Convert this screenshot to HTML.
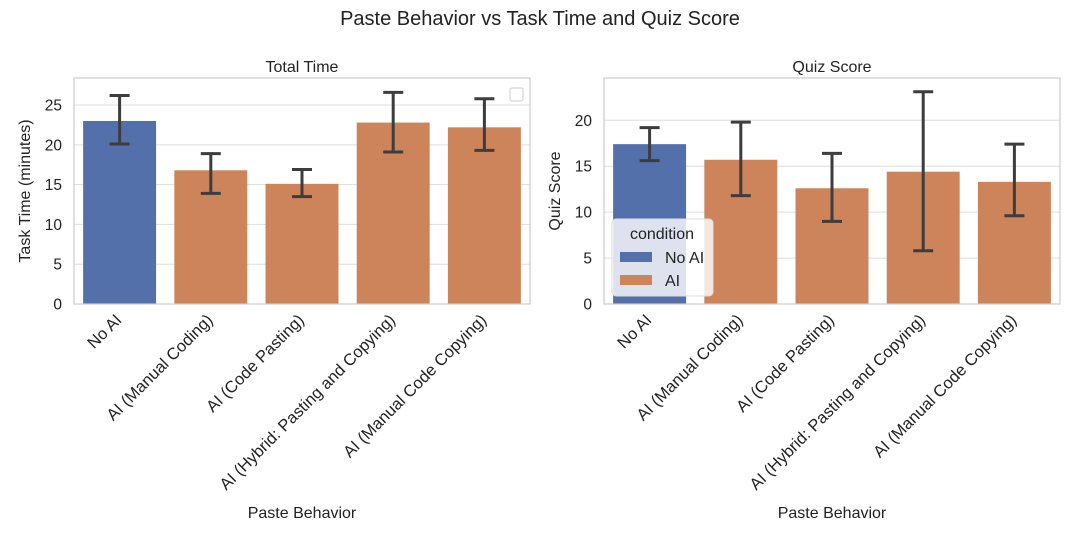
<!DOCTYPE html>
<html><head><meta charset="utf-8"><style>
body{margin:0;background:#fff;font-family:"Liberation Sans",sans-serif}
</style></head><body>
<svg id="s" width="1080" height="540" xmlns="http://www.w3.org/2000/svg" font-family="Liberation Sans, sans-serif">
<text x="540" y="25" text-anchor="middle" font-size="20" fill="#222">Paste Behavior vs Task Time and Quiz Score</text>
</svg>
<script>
const categories=["No AI","AI (Manual Coding)","AI (Code Pasting)","AI (Hybrid: Pasting and Copying)","AI (Manual Code Copying)"];
const timeValues=[23.0,16.8,15.1,22.8,22.2];
const timeLow=[20.1,13.9,13.5,19.1,19.3];
const timeHigh=[26.2,18.9,16.9,26.6,25.8];
const quizValues=[17.4,15.7,12.6,14.4,13.3];
const quizLow=[15.6,11.8,9.0,5.8,9.6];
const quizHigh=[19.2,19.8,16.4,23.1,17.4];
const timeTicks=[0,5,10,15,20,25];
const quizTicks=[0,5,10,15,20];
const BLUE='#5470aa', ORANGE='#cd845a';
const NS="http://www.w3.org/2000/svg";
const svg=document.getElementById('s');
function mk(t,a,p){const e=document.createElementNS(NS,t);for(const k in a)e.setAttribute(k,a[k]);(p||svg).appendChild(e);return e;}
function panel(x0,x1,y0,y1,ymax,vals,lo,hi,ticks,title,ylabel,key){
  const g=mk('g',{});
  
  
  const y=v=>y1-(v/ymax)*(y1-y0);
  const bw=(x1-x0)/categories.length;
  ticks.forEach(t=>{
    const l=mk('line',{x1:x0,x2:x1,y1:y(t),y2:y(t),stroke:'#ddd','stroke-width':1},g);
    
    
    const tx=mk('text',{x:x0-12,y:y(t)+5.5,'text-anchor':'end','font-size':15.5,fill:'#222'},g);tx.textContent=t;
    
    
  });
  vals.forEach((v,i)=>{
    const cx=x0+bw*(i+0.5);
    const r=mk('rect',{x:cx-bw*0.4,y:y(v),width:bw*0.8,height:y1-y(v),fill:i==0?BLUE:ORANGE},g);
    
    
    const e=mk('path',{d:`M${cx},${y(lo[i])}V${y(hi[i])}M${cx-10},${y(lo[i])}H${cx+10}M${cx-10},${y(hi[i])}H${cx+10}`,stroke:'#3d3d3d','stroke-width':3,fill:'none'},g);
    
    
    const tx=mk('text',{x:cx+3,y:y1+17,'text-anchor':'end','font-size':16.5,fill:'#222',transform:`rotate(-45 ${cx+3} ${y1+17})`},g);tx.textContent=categories[i];
    
    
  });
  mk('rect',{x:x0,y:y0,width:x1-x0,height:y1-y0,fill:'none',stroke:'#ccc','stroke-width':1.2},g);
  const t=mk('text',{x:(x0+x1)/2,y:y0-6,'text-anchor':'middle','font-size':16,fill:'#222'},g);t.textContent=title;
  
  
  const yl=mk('text',{x:0,y:0,'text-anchor':'middle','font-size':16,fill:'#222',transform:`translate(${x0-44},${(y0+y1)/2}) rotate(-90)`},g);yl.textContent=ylabel;
  
  
  const xl=mk('text',{x:(x0+x1)/2,y:518,'text-anchor':'middle','font-size':16,fill:'#222'},g);xl.textContent='Paste Behavior';
  
  
}
panel(74,530,78,304,28.4,timeValues,timeLow,timeHigh,timeTicks,'Total Time','Task Time (minutes)','time');
panel(604,1060,78,304,24.6,quizValues,quizLow,quizHigh,quizTicks,'Quiz Score','Quiz Score','quiz');
const el=mk('rect',{x:510,y:88,width:13,height:13,rx:2,fill:'#fff',stroke:'#ccc'});


const lg=mk('g',{});


mk('rect',{x:612,y:219,width:101,height:77,rx:4,fill:'rgba(255,255,255,0.8)',stroke:'#ddd'},lg);
const lt=mk('text',{x:662,y:239,'text-anchor':'middle','font-size':16,fill:'#222'},lg);lt.textContent='condition';
[['No AI',BLUE,257],['AI',ORANGE,280]].forEach(([n,c,yy])=>{
  const r=mk('rect',{x:620,y:yy-5,width:32,height:10,fill:c},lg);
  
  
  const t=mk('text',{x:665,y:yy+6,'font-size':16,fill:'#222'},lg);t.textContent=n;
  
  
});
</script>
</body></html>
